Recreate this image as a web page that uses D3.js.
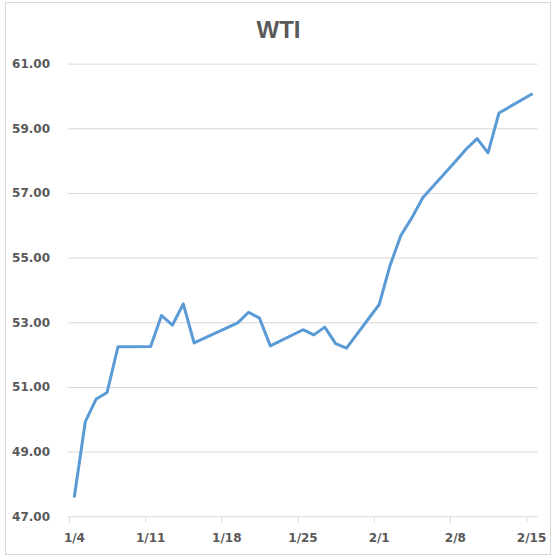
<!DOCTYPE html>
<html>
<head>
<meta charset="utf-8">
<script src="https://cdn.jsdelivr.net/npm/d3@7"></script>
<style>
  html, body { margin: 0; padding: 0; background: #fff; }
  svg { display: block; }
</style>
</head>
<body>
<svg id="chart" width="555" height="559"></svg>
<script>
const title = "WTI";
const dates = ["2021-01-04","2021-01-05","2021-01-06","2021-01-07","2021-01-08",
  "2021-01-11","2021-01-12","2021-01-13","2021-01-14","2021-01-15",
  "2021-01-19","2021-01-20","2021-01-21","2021-01-22",
  "2021-01-25","2021-01-26","2021-01-27","2021-01-28","2021-01-29",
  "2021-02-01","2021-02-02","2021-02-03","2021-02-04","2021-02-05",
  "2021-02-08","2021-02-09","2021-02-10","2021-02-11","2021-02-12",
  "2021-02-15"];
const values = [47.62,49.93,50.63,50.83,52.24,
  52.25,53.21,52.91,53.57,52.36,
  52.98,53.31,53.13,52.27,
  52.77,52.61,52.85,52.34,52.20,
  53.55,54.76,55.69,56.23,56.85,
  57.97,58.36,58.68,58.24,59.47,
  60.05];
const yTicks = [47,49,51,53,55,57,59,61];
const xTickDates = ["2021-01-04","2021-01-11","2021-01-18","2021-01-25","2021-02-01","2021-02-08","2021-02-15"];
const xDomain = ["2021-01-04","2021-02-16"];

(function () {
const svg = d3.select("#chart");
const pLeft = 69, pRight = 537, pTop = 63.6, pBottom = 516.3;
const DAY = 864e5;
const HALF = DAY / 2;
const parse = s => new Date(s + "T00:00:00Z");

const x = d3.scaleUtc().domain(xDomain.map(parse)).range([pLeft, pRight]);
const y = d3.scaleLinear().domain([47, 61]).range([pBottom, pTop]);

const grey = "#595959";
const lineGrey = "#d9d9d9";
const font = "'DejaVu Sans', sans-serif";

// chart border
svg.append("rect")
  .attr("x", 5.5).attr("y", 2.5)
  .attr("width", 545).attr("height", 552)
  .attr("fill", "#fff").attr("stroke", lineGrey).attr("stroke-width", 1);

// title
svg.append("text")
  .attr("x", 278.5).attr("y", 38.3)
  .attr("text-anchor", "middle")
  .attr("font-family", "'Liberation Sans', Arial, sans-serif")
  .attr("font-weight", "bold")
  .attr("font-size", 24)
  .attr("fill", grey)
  .text(title);

// y gridlines + labels
const yAxis = d3.axisLeft(y).tickValues(yTicks).tickSize(-(pRight + 0.7 - pLeft + 1)).tickFormat(d3.format(".2f")).tickPadding(18);
const gy = svg.append("g").attr("transform", `translate(${pLeft - 1},0)`).call(yAxis);
gy.select(".domain").remove();
gy.selectAll(".tick line").attr("stroke", lineGrey).attr("stroke-width", 1)
  .attr("stroke-opacity", d => d === 47 ? 0 : 1);
gy.selectAll(".tick text")
  .attr("font-family", font).attr("font-weight", "bold").attr("font-size", 12)
  .attr("fill", grey);

// x axis baseline
const xAxis = d3.axisBottom(x)
  .tickValues(xTickDates.map(parse))
  .tickSize(6)
  .tickFormat(() => "");
const gx = svg.append("g").attr("transform", `translate(0,${y(47)})`).call(xAxis);
gx.select(".domain").attr("stroke", lineGrey).attr("d", `M${pLeft - 1},0.5H${pRight + 0.7}`);
gx.selectAll(".tick line").attr("stroke", lineGrey).attr("transform", "translate(0,0.5)");

// x labels at category centers
const fmt = d => (d.getUTCMonth() + 1) + "/" + d.getUTCDate();
svg.append("g").selectAll("text")
  .data(xTickDates.map(parse))
  .join("text")
  .attr("x", d => x(new Date(+d + HALF)))
  .attr("y", 541.7)
  .attr("text-anchor", "middle")
  .attr("font-family", font).attr("font-weight", "bold").attr("font-size", 12)
  .attr("fill", grey)
  .text(fmt);

// line
const data = dates.map((d, i) => ({ date: new Date(+parse(d) + HALF), value: values[i] }));
svg.append("path")
  .datum(data)
  .attr("fill", "none")
  .attr("stroke", "#5b9bd5")
  .attr("stroke-width", 3)
  .attr("stroke-linejoin", "round")
  .attr("stroke-linecap", "round")
  .attr("d", d3.line().x(d => x(d.date)).y(d => y(d.value)));
})();
</script>
</body>
</html>
